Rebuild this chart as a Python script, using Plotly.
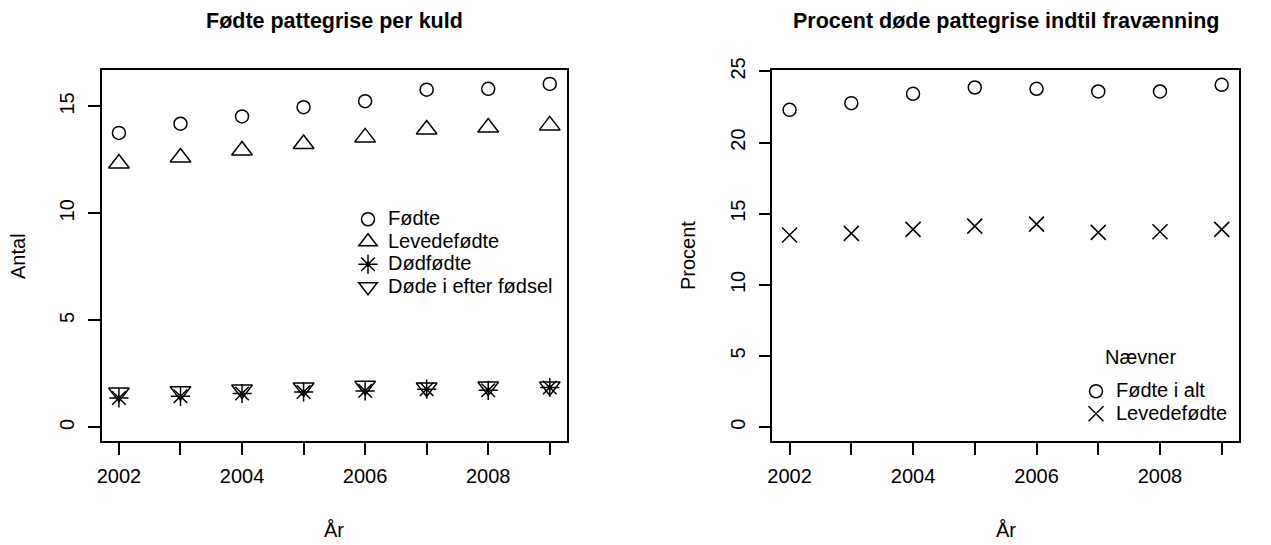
import plotly.graph_objects as go

# ---------------- data ----------------
years = [2002, 2003, 2004, 2005, 2006, 2007, 2008, 2009]
year_tick_labels = ["2002", "", "2004", "", "2006", "", "2008", ""]

# Left panel: born piglets per litter
foedte = [13.76, 14.19, 14.53, 14.96, 15.24, 15.78, 15.82, 16.05]
levedefoedte = [12.33, 12.61, 12.94, 13.24, 13.55, 13.92, 14.01, 14.11]
doedfoedte = [1.37, 1.45, 1.58, 1.65, 1.70, 1.78, 1.73, 1.86]
doede_efter = [1.63, 1.69, 1.77, 1.86, 1.94, 1.86, 1.91, 1.91]
left_yticks = [0, 5, 10, 15]

# Right panel: percent dead piglets until weaning
pct_foedte_i_alt = [22.30, 22.77, 23.43, 23.87, 23.78, 23.59, 23.59, 24.06]
pct_levedefoedte = [13.50, 13.62, 13.90, 14.13, 14.27, 13.69, 13.73, 13.90]
right_yticks = [0, 5, 10, 15, 20, 25]

# ---------------- figure ----------------
W, H = 1271, 545
FONT = "Liberation Sans, Arial, sans-serif"
FS = 20
LW = 1.5

def px(xp):
    return xp / W

def py(yp):
    return 1 - yp / H

def leg_name(s):
    return '<span style="font-size:%dpx">%s</span>' % (FS, s)

fig = go.Figure()

def add(x, y, name, symbol, size, xa, ya, legend):
    fig.add_trace(go.Scatter(
        x=x, y=y, mode="markers", name=leg_name(name),
        xaxis=xa, yaxis=ya, legend=legend,
        marker=dict(symbol=symbol, size=size, color="black",
                    line=dict(color="black", width=LW)),
        hoverinfo="x+y"))

add(years, foedte, "Fødte", "circle-open", 13, "x", "y", "legend")
add(years, levedefoedte, "Levedefødte", "triangle-up-open", 18, "x", "y", "legend")
add(years, doedfoedte, "Dødfødte", "asterisk-open", 16, "x", "y", "legend")
add(years, doede_efter, "Døde i efter fødsel", "triangle-down-open", 18, "x", "y", "legend")

add(years, pct_foedte_i_alt, "Fødte i alt", "circle-open", 13, "x2", "y2", "legend2")
add(years, pct_levedefoedte, "Levedefødte", "x-thin-open", 15, "x2", "y2", "legend2")

axis_common = dict(
    showgrid=False, zeroline=False, showline=True, mirror=True,
    linecolor="black", linewidth=LW, ticks="outside", ticklen=12,
    tickwidth=LW, tickcolor="black", automargin=False,
    tickfont=dict(family=FONT, size=FS, color="black"),
)

xdomL = [px(101.7), px(567)]
xdomR = [px(772.3), px(1239)]
ydom = [py(441), py(70)]

fig.update_layout(
    width=W, height=H,
    margin=dict(l=0, r=0, t=0, b=0, pad=0, autoexpand=False),
    paper_bgcolor="white", plot_bgcolor="white",
    font=dict(family=FONT, size=FS, color="black"),
    xaxis=dict(domain=xdomL, anchor="y", range=[2001.72, 2009.28],
               tickvals=years, ticktext=year_tick_labels,
               ticklabelstandoff=4, **axis_common),
    yaxis=dict(domain=ydom, anchor="x", range=[-0.64, 16.70],
               tickvals=left_yticks, tickangle=-90,
               ticklabelstandoff=6, **axis_common),
    xaxis2=dict(domain=xdomR, anchor="y2", range=[2001.72, 2009.28],
                tickvals=years, ticktext=year_tick_labels,
                ticklabelstandoff=4, **axis_common),
    yaxis2=dict(domain=ydom, anchor="x2", range=[-0.97, 25.1],
                tickvals=right_yticks, tickangle=-90,
                ticklabelstandoff=6, **axis_common),
    legend=dict(x=px(348), y=py(203), xanchor="left", yanchor="top",
                bgcolor="rgba(0,0,0,0)", borderwidth=0,
                font=dict(family=FONT, size=15, color="black"),
                itemwidth=30, tracegroupgap=0),
    legend2=dict(x=px(1076), y=py(375), xanchor="left", yanchor="top",
                 bgcolor="rgba(0,0,0,0)", borderwidth=0,
                 font=dict(family=FONT, size=15, color="black"),
                 itemwidth=30, tracegroupgap=0),
    showlegend=True,
)

ann = []
def text(x, y, s, size=FS, bold=False, angle=0):
    ann.append(dict(x=px(x), y=py(y), xref="paper", yref="paper",
                    text=("<b>%s</b>" % s) if bold else s, showarrow=False,
                    xanchor="center", yanchor="middle", textangle=angle,
                    font=dict(family=FONT, size=size, color="black")))

text(334.3, 21, "Fødte pattegrise per kuld", size=21.5, bold=True)
text(1005.6, 21, "Procent døde pattegrise indtil fravænning", size=21.5, bold=True)
text(334.3, 530, "År")
text(1005.6, 530, "År")
text(18, 256, "Antal", angle=-90)
text(688, 256, "Procent", angle=-90)
text(1140, 357, "Nævner")
fig.update_layout(annotations=ann)

fig.write_html(
    "out.html",
    config={"displayModeBar": False},
    post_script="document.body.style.margin='0';document.body.style.overflow='hidden';",
)
